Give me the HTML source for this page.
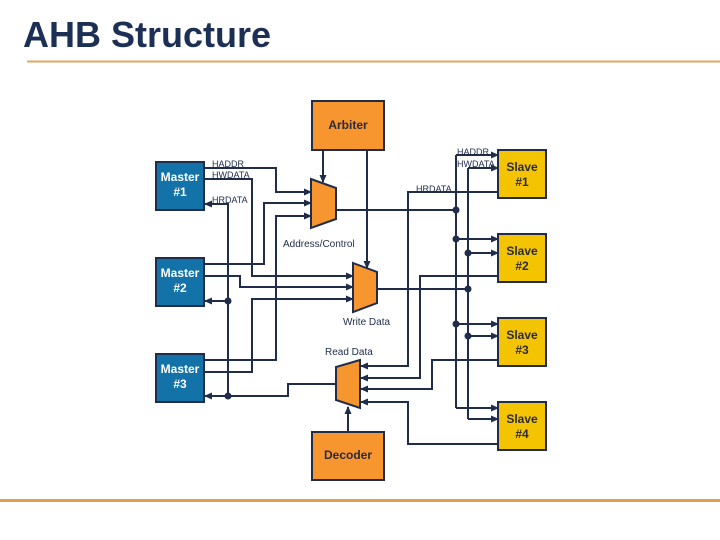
<!DOCTYPE html>
<html><head><meta charset="utf-8"><style>
html,body{margin:0;padding:0;background:#fff;}
svg{display:block;}
text{font-family:"Liberation Sans",sans-serif;}
</style></head><body>
<svg width="720" height="540" viewBox="0 0 720 540" xmlns="http://www.w3.org/2000/svg">
<defs>
<marker id="a" markerWidth="8" markerHeight="8" refX="7" refY="4" orient="auto" markerUnits="userSpaceOnUse">
<path d="M0,0.5 L8,4 L0,7.5 Z" fill="#1f2d4a"/></marker>
</defs>
<text x="23" y="47" font-size="36" font-weight="bold" fill="#1c2f55">AHB Structure</text>
<line x1="27" y1="61.5" x2="720" y2="61.5" stroke="#e0a865" stroke-width="2"/>
<line x1="0" y1="500.5" x2="720" y2="500.5" stroke="#e0a050" stroke-width="3"/>

<g fill="none" stroke="#1f2d4a" stroke-width="2">
<path d="M323,150 V182" marker-end="url(#a)"/>
<path d="M367,150 V268" marker-end="url(#a)"/>
<path d="M204,168 H276 V192 H311" marker-end="url(#a)"/>
<path d="M204,179 H252 V276 H353" marker-end="url(#a)"/>
<path d="M228,204 H205" marker-end="url(#a)"/>
<path d="M228,203 V396"/>
<path d="M204,264 H264 V203 H311" marker-end="url(#a)"/>
<path d="M204,276 H240 V287 H353" marker-end="url(#a)"/>
<path d="M228,301 H205" marker-end="url(#a)"/>
<path d="M204,360 H276 V216 H311" marker-end="url(#a)"/>
<path d="M204,372 H252 V299 H353" marker-end="url(#a)"/>
<path d="M336,384 H288 V396 H205" marker-end="url(#a)"/>
<path d="M336,210 H456"/>
<path d="M377,289 H468"/>
<path d="M456,155 V408"/>
<path d="M468,168 V419"/>
<path d="M456,155 H498" marker-end="url(#a)"/>
<path d="M468,168 H498" marker-end="url(#a)"/>
<path d="M456,239 H498" marker-end="url(#a)"/>
<path d="M468,253 H498" marker-end="url(#a)"/>
<path d="M456,324 H498" marker-end="url(#a)"/>
<path d="M468,336 H498" marker-end="url(#a)"/>
<path d="M456,408 H498" marker-end="url(#a)"/>
<path d="M468,419 H498" marker-end="url(#a)"/>
<path d="M498,192 H408 V366 H361" marker-end="url(#a)"/>
<path d="M498,276 H420 V378 H361" marker-end="url(#a)"/>
<path d="M498,360 H432 V389 H361" marker-end="url(#a)"/>
<path d="M498,444 H408 V402 H361" marker-end="url(#a)"/>
<path d="M348,432 V407" marker-end="url(#a)"/>
</g>
<g fill="#1f2d4a">
<circle cx="228" cy="301" r="3.5"/><circle cx="228" cy="396" r="3.5"/>
<circle cx="456" cy="210" r="3.5"/><circle cx="468" cy="289" r="3.5"/>
<circle cx="456" cy="239" r="3.5"/><circle cx="468" cy="253" r="3.5"/>
<circle cx="456" cy="324" r="3.5"/><circle cx="468" cy="336" r="3.5"/>
</g>

<g fill="#f7962f" stroke="#1f2d4a" stroke-width="2">
<path d="M311,179 L336,188 L336,219 L311,228 Z"/>
<path d="M353,263 L377,272 L377,303 L353,312 Z"/>
<path d="M360,360 L336,367 L336,400 L360,408 Z"/>
<rect x="312" y="101" width="72" height="49"/>
<rect x="312" y="432" width="72" height="48"/>
</g>
<g fill="#1372a8" stroke="#1f2d4a" stroke-width="2">
<rect x="156" y="162" width="48" height="48"/>
<rect x="156" y="258" width="48" height="48"/>
<rect x="156" y="354" width="48" height="48"/>
</g>
<g fill="#f5c400" stroke="#1f2d4a" stroke-width="2">
<rect x="498" y="150" width="48" height="48"/>
<rect x="498" y="234" width="48" height="48"/>
<rect x="498" y="318" width="48" height="48"/>
<rect x="498" y="402" width="48" height="48"/>
</g>

<g font-size="12" font-weight="bold" text-anchor="middle">
<text x="348" y="129" fill="#2a2a3a">Arbiter</text>
<text x="348" y="459" fill="#2a2a3a">Decoder</text>
<g fill="#fff"><text x="180" y="181">Master</text><text x="180" y="196">#1</text>
<text x="180" y="277">Master</text><text x="180" y="292">#2</text>
<text x="180" y="373">Master</text><text x="180" y="388">#3</text></g>
<g fill="#2a2a3a"><text x="522" y="171">Slave</text><text x="522" y="186">#1</text>
<text x="522" y="255">Slave</text><text x="522" y="270">#2</text>
<text x="522" y="339">Slave</text><text x="522" y="354">#3</text>
<text x="522" y="423">Slave</text><text x="522" y="438">#4</text></g>
</g>
<g font-size="9" fill="#1f2d4a">
<text x="212" y="167">HADDR</text><text x="212" y="178">HWDATA</text><text x="212" y="203">HRDATA</text>
<text x="457" y="155">HADDR</text><text x="457" y="167">HWDATA</text><text x="416" y="192">HRDATA</text>
<text x="283" y="247" font-size="10">Address/Control</text>
<text x="343" y="325" font-size="10">Write Data</text>
<text x="325" y="355" font-size="10">Read Data</text>
</g>
</svg>
</body></html>
